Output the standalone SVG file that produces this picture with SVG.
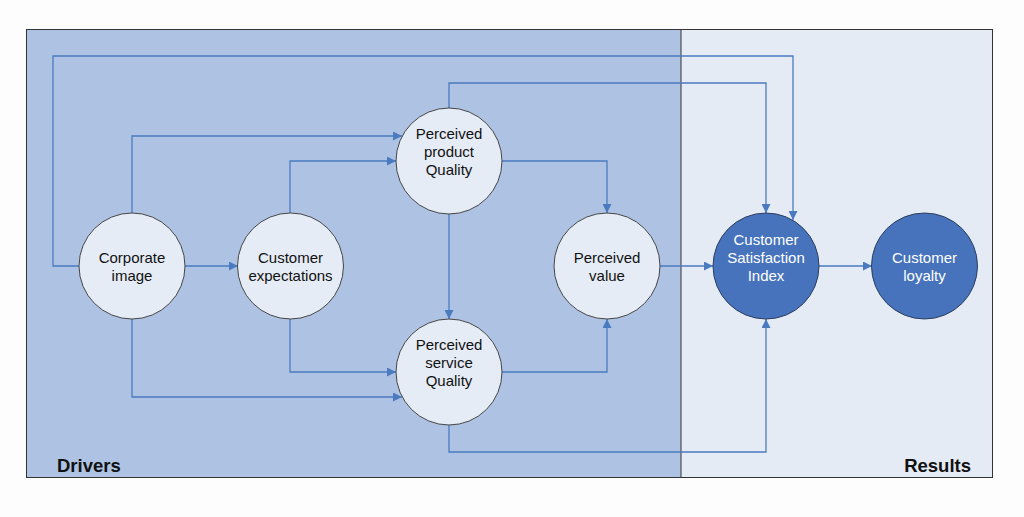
<svg xmlns="http://www.w3.org/2000/svg" width="1024" height="517" viewBox="0 0 1024 517">
<defs>
<marker id="arr" viewBox="0 0 10 10" refX="10" refY="5" markerWidth="9" markerHeight="9" markerUnits="userSpaceOnUse" orient="auto">
<path d="M0,0 L10,5 L0,10 z" fill="#4a7bc0"/>
</marker>
<style>
.c{fill:none;stroke:#4a7bc0;stroke-width:1.3;marker-end:url(#arr)}
.lt{fill:#e6ecf6;stroke:#444;stroke-width:1}
.dk{fill:#4673bb;stroke:#2c3e5e;stroke-width:1}
.t{font-family:"Liberation Sans",Arial,sans-serif;font-size:15px;fill:#111;text-anchor:middle}
.tw{font-family:"Liberation Sans",Arial,sans-serif;font-size:15px;fill:#fff;text-anchor:middle}
.h{font-family:"Liberation Sans",Arial,sans-serif;font-size:18.5px;font-weight:bold;fill:#111}
</style>
</defs>
<rect x="0" y="0" width="1024" height="517" fill="#fdfdfd"/>
<g id="panels">
<rect x="26.5" y="29.5" width="966" height="448" fill="#e4ebf5" stroke="#333" stroke-width="1"/>
<rect x="26.5" y="29.5" width="654.5" height="448" fill="#aec3e3" stroke="#333" stroke-width="1"/>
<text class="h" x="57" y="472">Drivers</text>
<text class="h" x="971" y="472" text-anchor="end">Results</text>
</g>
<g id="connectors">
<path class="c" d="M79,266 H53 V56 H793 V220"/>
<path class="c" d="M132,213 V136 H402"/>
<path class="c" d="M290,213 V161 H396"/>
<path class="c" d="M185,266 H238"/>
<path class="c" d="M449,108 V83 H766 V213"/>
<path class="c" d="M502,161 H607 V213"/>
<path class="c" d="M449,214 V319"/>
<path class="c" d="M290,319 V372 H396"/>
<path class="c" d="M132,319 V397 H402"/>
<path class="c" d="M502,372 H607 V319"/>
<path class="c" d="M449,425 V452 H766 V319"/>
<path class="c" d="M660,266 H713"/>
<path class="c" d="M819,266 H872"/>
</g>
<g id="corporate-image">
<circle class="lt" cx="132" cy="266" r="53"/>
<text class="t" x="132" y="263">Corporate</text>
<text class="t" x="132" y="281">image</text>
</g>
<g id="customer-expectations">
<circle class="lt" cx="290.5" cy="266" r="53"/>
<text class="t" x="290.5" y="263">Customer</text>
<text class="t" x="290.5" y="281">expectations</text>
</g>
<g id="perceived-product-quality">
<circle class="lt" cx="449" cy="161" r="53"/>
<text class="t" x="449" y="139">Perceived</text>
<text class="t" x="449" y="157">product</text>
<text class="t" x="449" y="175">Quality</text>
</g>
<g id="perceived-value">
<circle class="lt" cx="607" cy="266" r="53"/>
<text class="t" x="607" y="263">Perceived</text>
<text class="t" x="607" y="281">value</text>
</g>
<g id="perceived-service-quality">
<circle class="lt" cx="449" cy="372" r="53"/>
<text class="t" x="449" y="350">Perceived</text>
<text class="t" x="449" y="368">service</text>
<text class="t" x="449" y="386">Quality</text>
</g>
<g id="customer-satisfaction-index">
<circle class="dk" cx="766" cy="266" r="53"/>
<text class="tw" x="766" y="245">Customer</text>
<text class="tw" x="766" y="263">Satisfaction</text>
<text class="tw" x="766" y="281">Index</text>
</g>
<g id="customer-loyalty">
<circle class="dk" cx="924.5" cy="266" r="53"/>
<text class="tw" x="924.5" y="263">Customer</text>
<text class="tw" x="924.5" y="281">loyalty</text>
</g>
</svg>
